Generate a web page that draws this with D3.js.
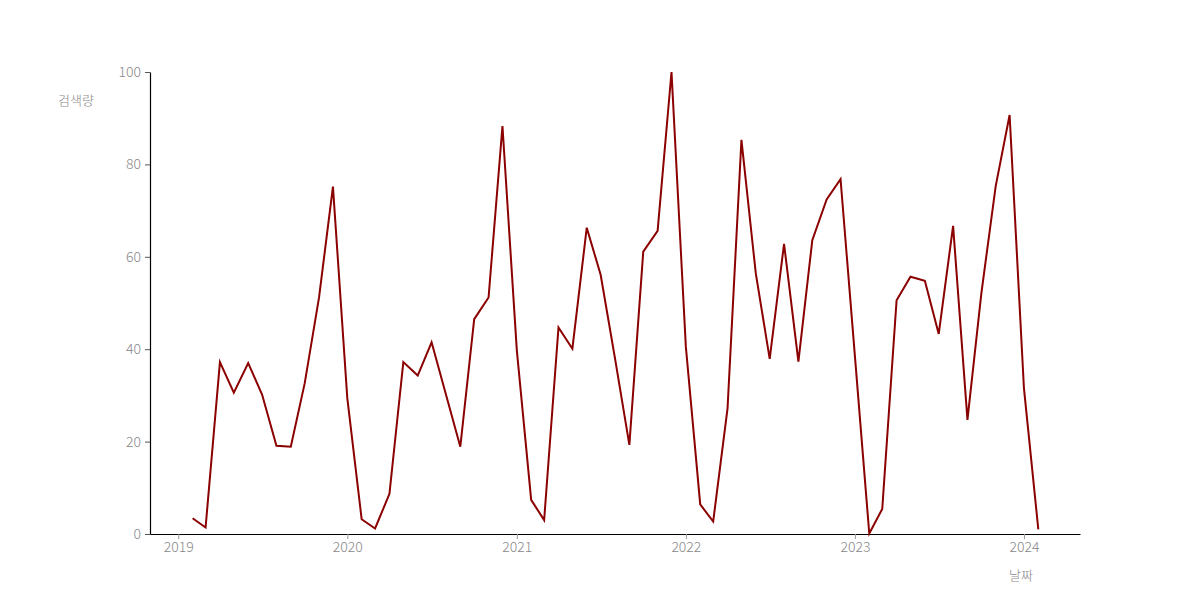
<!DOCTYPE html>
<html>
<head>
<meta charset="utf-8">
<script src="https://cdn.jsdelivr.net/npm/d3@7"></script>
<style>
  body { margin: 0; background: #fff; }
  svg { display: block; }
  text { font-family: "Noto Sans CJK KR", "Noto Sans", "Open Sans", sans-serif; font-weight: 300; }
</style>
</head>
<body>
<svg id="chart" width="1200" height="600"></svg>
<script>
const months = [
  "2019-02","2019-03","2019-04","2019-05","2019-06","2019-07","2019-08","2019-09","2019-10","2019-11","2019-12",
  "2020-01","2020-02","2020-03","2020-04","2020-05","2020-06","2020-07","2020-08","2020-09","2020-10","2020-11","2020-12",
  "2021-01","2021-02","2021-03","2021-04","2021-05","2021-06","2021-07","2021-08","2021-09","2021-10","2021-11","2021-12",
  "2022-01","2022-02","2022-03","2022-04","2022-05","2022-06","2022-07","2022-08","2022-09","2022-10","2022-11","2022-12",
  "2023-01","2023-02","2023-03","2023-04","2023-05","2023-06","2023-07","2023-08","2023-09","2023-10","2023-11","2023-12",
  "2024-01","2024-02"
];
const values = [
  3.4, 1.4, 37.2, 30.6, 37.0, 30.2, 19.1, 18.9, 32.6, 51.2, 75.2,
  29.4, 3.2, 1.2, 8.7, 37.2, 34.3, 41.5, 30.2, 18.9, 46.5, 51.2, 88.3,
  39.8, 7.4, 3.0, 44.7, 40.1, 66.3, 56.1, 38.0, 19.3, 61.1, 65.6, 100,
  40.5, 6.4, 2.7, 27.2, 85.3, 56.4, 37.9, 62.8, 37.3, 63.6, 72.4, 76.8,
  38.5, 0.1, 5.4, 50.6, 55.7, 54.8, 43.3, 66.7, 24.7, 52.1, 75.3, 90.7,
  31.5, 1.0
];
const yTicks = [0, 20, 40, 60, 80, 100];
const xTickYears = ["2019", "2020", "2021", "2022", "2023", "2024"];
const xDomain = ["2018-11", "2024-05"];
const yLabel = "검색량";
const xLabel = "날짜";

const parseMonth = d3.timeParse("%Y-%m");
const parseYear = d3.timeParse("%Y");
const data = months.map((m, i) => ({ date: parseMonth(m), value: values[i] }));

const svg = d3.select("#chart");
const mLeft = 150, mRight = 1080, mTop = 72, mBottom = 534;

const x = d3.scaleTime()
  .domain(xDomain.map(parseMonth))
  .range([mLeft, mRight]);
const y = d3.scaleLinear().domain([0, 100]).range([mBottom, mTop]);

// X axis
const xAxis = svg.append("g").attr("transform", `translate(0,${mBottom})`)
  .call(d3.axisBottom(x).tickValues(xTickYears.map(parseYear))
    .tickFormat(d3.timeFormat("%Y")).tickSize(5).tickPadding(3).tickSizeOuter(0));
xAxis.select(".domain").attr("stroke", "#000").attr("stroke-width", 1.2);
xAxis.selectAll(".tick line").attr("stroke", "#999");
xAxis.selectAll(".tick text").attr("fill", "#888").style("font-size", "14px");

// Y axis
const yAxis = svg.append("g").attr("transform", `translate(${mLeft},0)`)
  .call(d3.axisLeft(y).tickValues(yTicks).tickSize(5).tickPadding(4).tickSizeOuter(0));
yAxis.select(".domain").attr("stroke", "#000").attr("stroke-width", 1.2);
yAxis.selectAll(".tick line").attr("stroke", "#555");
yAxis.selectAll(".tick text").attr("fill", "#888").style("font-size", "14px");

// Line
const line = d3.line().x(d => x(d.date)).y(d => y(d.value));
svg.append("path").datum(data)
  .attr("fill", "none")
  .attr("stroke", "#8b0000")
  .attr("stroke-width", 2)
  .attr("stroke-linejoin", "miter")
  .attr("d", line);

// Labels
svg.append("text").attr("x", 76).attr("y", 105).attr("text-anchor", "middle")
  .attr("fill", "#888").style("font-size", "13px").text(yLabel);
svg.append("text").attr("x", 1021).attr("y", 580).attr("text-anchor", "middle")
  .attr("fill", "#888").style("font-size", "13px").text(xLabel);
</script>
</body>
</html>
